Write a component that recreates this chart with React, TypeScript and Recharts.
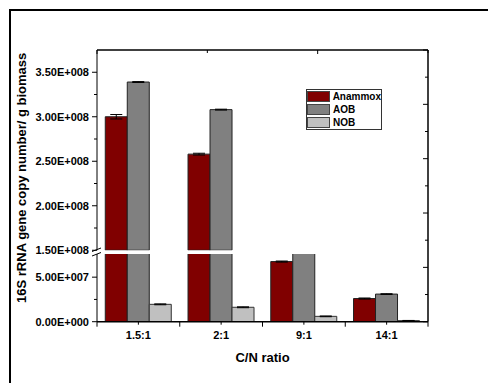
import React from 'react';
import { BarChart, Bar, XAxis, YAxis, ErrorBar, Legend } from 'recharts';

const categories = ['1.5:1', '2:1', '9:1', '14:1'];
const anammox = [3.0e8, 2.58e8, 6.75e7, 2.6e7];
const aob = [3.39e8, 3.08e8, 1.0e8, 3.1e7];
const nob = [1.95e7, 1.62e7, 6.0e6, 1.2e6];
const anammoxErr = [2.5e6, 1.0e6, 6e5, 6e5];
const aobErr = [5e5, 5e5, 0, 4e5];
const nobErr = [5e5, 5e5, 4e5, 2e5];

const seriesNames = ['Anammox', 'AOB', 'NOB'];

const upperTicks = [1.5e8, 1.75e8, 2e8, 2.25e8, 2.5e8, 2.75e8, 3e8, 3.25e8, 3.5e8];
const lowerTicks = [0, 2.5e7, 5e7];
const topTicks = [0, 1, 2, 3, 4, 5, 6, 7, 8, 9, 10];
const rightTicks = [0, 0.5, 1, 1.5, 2, 2.5, 3, 3.5, 4, 4.5, 5];

const UPPER_DOMAIN = [1.5e8, 3.75e8];
const LOWER_DOMAIN = [0, 7.6e7];

const data = categories.map((name, i) => ({
  name,
  anammox: anammox[i],
  aob: aob[i],
  nob: nob[i],
  anammoxErr: anammoxErr[i],
  aobErr: aobErr[i],
  nobErr: nobErr[i],
}));

// the upper segment only shows bars that reach past the break
const above = (v: number) => (v > UPPER_DOMAIN[0] ? v : null);
const upperData = data.map((d) => ({ ...d, anammox: above(d.anammox), aob: above(d.aob), nob: above(d.nob) }));

// layout (px, page coords)
const W = 488;
const H = 383;
const PL = 97;
const PR = 428;
const PT = 50;
const PB = 321.7;
const UPPER_BOTTOM = 250.25;
const LOWER_TOP = 254;
const LOWER_DIV_TOP = 240;
const UH = 260;
const LH = H - LOWER_DIV_TOP;
const BAND = (PR - PL) / categories.length;

const FONT = '"Liberation Sans", Arial, sans-serif';

const sci = (v: number) => {
  const [m, e] = v.toExponential(2).split('e');
  const sign = e[0] === '-' ? '-' : '+';
  return `${m}E${sign}${e.replace(/[+-]/, '').padStart(3, '0')}`;
};

const isMajor = (v: number) => Math.abs(v / 5e7 - Math.round(v / 5e7)) < 1e-9;

const LeftTick = ({ x, y, payload }: any) => {
  const major = isMajor(payload.value);
  return (
    <g>
      <line x1={x - (major ? 5 : 3)} x2={x} y1={y} y2={y} stroke="#000" strokeWidth={1} />
      {major && (
        <text x={x - 8} y={y} dy={4} textAnchor="end" fontSize={11} fontWeight="bold" fill="#000">
          {sci(payload.value)}
        </text>
      )}
    </g>
  );
};

const TopTick = ({ x, y, index }: any) => (
  <line x1={x} x2={x} y1={y} y2={y + (index % 2 === 0 ? 4 : 3)} stroke="#000" strokeWidth={1} />
);

const RightTick = ({ x, y, payload }: any) => (
  <line x1={x - (Number.isInteger(payload.value) ? 5 : 3)} x2={x} y1={y} y2={y} stroke="#000" strokeWidth={1} />
);

const BottomTick = ({ x, y, payload, index }: any) => (
  <g>
    <line x1={x} x2={x} y1={y} y2={y + 3} stroke="#000" strokeWidth={1} />
    <line x1={x - BAND / 2} x2={x - BAND / 2} y1={y} y2={y + 5} stroke="#000" strokeWidth={1} />
    {index === categories.length - 1 && (
      <line x1={x + BAND / 2} x2={x + BAND / 2} y1={y} y2={y + 5} stroke="#000" strokeWidth={1} />
    )}
    <text x={x} y={y + 17.5} textAnchor="middle" fontSize={11} fontWeight="bold" fill="#000">
      {payload.value}
    </text>
  </g>
);

const LegendBox = ({ payload }: any) => {
  const items = [...(payload || [])].sort(
    (a: any, b: any) => seriesNames.indexOf(a.value) - seriesNames.indexOf(b.value)
  );
  return (
    <div style={{ border: '1px solid #333', background: '#fff', width: 74, fontFamily: FONT }}>
      {items.map((p: any) => (
        <div key={p.value} style={{ display: 'flex', alignItems: 'center', height: 13 }}>
          <span
            style={{
              display: 'inline-block',
              width: 23,
              height: 11,
              background: p.color,
              border: '1px solid #444',
              boxSizing: 'border-box',
              marginRight: 3,
            }}
          />
          <span style={{ fontSize: 10, fontWeight: 'bold', color: '#000', lineHeight: '13px' }}>{p.value}</span>
        </div>
      ))}
    </div>
  );
};

const YLabel = () => (
  <text
    x={22}
    y={(PT + PB) / 2 - 8}
    transform={`rotate(-90 22 ${(PT + PB) / 2 - 8})`}
    textAnchor="middle"
    dominantBaseline="central"
    fontSize={13}
    fontWeight="bold"
    fill="#000"
  >
    16S rRNA gene copy number/ g biomass
  </text>
);

const bars = () => [
  <Bar key="a" dataKey="anammox" name={seriesNames[0]} fill="#800000" stroke="#222" strokeWidth={1} isAnimationActive={false}>
    <ErrorBar dataKey="anammoxErr" width={6} stroke="#000" strokeWidth={1} />
  </Bar>,
  <Bar key="b" dataKey="aob" name={seriesNames[1]} fill="#808080" stroke="#222" strokeWidth={1} isAnimationActive={false}>
    <ErrorBar dataKey="aobErr" width={6} stroke="#000" strokeWidth={1} />
  </Bar>,
  <Bar key="c" dataKey="nob" name={seriesNames[2]} fill="#c0c0c0" stroke="#333" strokeWidth={1} isAnimationActive={false}>
    <ErrorBar dataKey="nobErr" width={6} stroke="#000" strokeWidth={1} />
  </Bar>,
];

export default function App() {
  return (
    <div style={{ position: 'fixed', left: 0, top: 0, width: W, height: H, background: '#fff', fontFamily: FONT, overflow: 'hidden' }}>
      {/* upper segment */}
      <div style={{ position: 'absolute', left: 0, top: 0 }}>
        <BarChart
          width={W}
          height={UH}
          data={upperData}
          margin={{ top: PT, right: W - PR, bottom: UH - UPPER_BOTTOM, left: 0 }}
          barCategoryGap="10%"
          barGap={0}
        >
          <XAxis dataKey="name" hide />
          <YAxis
            type="number"
            domain={UPPER_DOMAIN}
            allowDataOverflow
            ticks={upperTicks}
            interval={0}
            width={PL}
            tickSize={0}
            tickMargin={0}
            tickLine={false}
            tick={<LeftTick />}
            axisLine={{ stroke: '#000', strokeWidth: 1 }}
          />
          {bars()}
          <Legend
            content={<LegendBox />}
            layout="horizontal"
            verticalAlign="middle"
            align="center"
            wrapperStyle={{ left: 306, top: 89, width: 'auto' }}
          />
        </BarChart>
      </div>

      {/* lower segment */}
      <div style={{ position: 'absolute', left: 0, top: LOWER_DIV_TOP }}>
        <BarChart
          width={W}
          height={LH}
          data={data}
          margin={{ top: LOWER_TOP - LOWER_DIV_TOP, right: W - PR, bottom: H - PB, left: 0 }}
          barCategoryGap="10%"
          barGap={0}
        >
          <XAxis dataKey="name" hide />
          <YAxis
            type="number"
            domain={LOWER_DOMAIN}
            allowDataOverflow
            ticks={lowerTicks}
            interval={0}
            width={PL}
            tickSize={0}
            tickMargin={0}
            tickLine={false}
            tick={<LeftTick />}
            axisLine={{ stroke: '#000', strokeWidth: 1 }}
          />
          {bars()}
        </BarChart>
      </div>

      {/* frame: top, right and bottom axes */}
      <div style={{ position: 'absolute', left: 0, top: 0, pointerEvents: 'none' }}>
        <BarChart
          width={W}
          height={H}
          data={data}
          margin={{ top: PT - 1, right: W - PR - 1, bottom: H - PB - 45, left: PL }}
        >
          <XAxis
            xAxisId="top"
            orientation="top"
            type="number"
            domain={[0, 10]}
            allowDataOverflow
            ticks={topTicks}
            interval={0}
            height={1}
            tickSize={0}
            tickMargin={0}
            tickLine={false}
            tick={<TopTick />}
            axisLine={{ stroke: '#000', strokeWidth: 1.5 }}
          />
          <XAxis
            dataKey="name"
            height={45}
            interval={0}
            tickSize={0}
            tickMargin={0}
            tickLine={false}
            tick={<BottomTick />}
            axisLine={{ stroke: '#000', strokeWidth: 1.5 }}
            label={{ value: 'C/N ratio', position: 'insideBottom', offset: 5, fontSize: 13, fontWeight: 'bold', fill: '#000' }}
          />
          <YAxis
            orientation="right"
            type="number"
            domain={[0, 5]}
            allowDataOverflow
            ticks={rightTicks}
            interval={0}
            width={1}
            tickSize={0}
            tickMargin={0}
            tickLine={false}
            tick={<RightTick />}
            axisLine={{ stroke: '#000', strokeWidth: 1.5 }}
          />
        </BarChart>
      </div>

      {/* outer frame, axis label and break marks */}
      <svg width={W} height={H} style={{ position: 'absolute', left: 0, top: 0, pointerEvents: 'none' }}>
        <line x1={10} y1={9} x2={10} y2={H} stroke="#000" strokeWidth={2} />
        <line x1={9} y1={10} x2={W} y2={10} stroke="#000" strokeWidth={2} />
        <YLabel />
        <line x1={92} y1={251.5} x2={101} y2={248} stroke="#000" strokeWidth={1} />
        <line x1={92} y1={256} x2={101} y2={252.5} stroke="#000" strokeWidth={1} />
      </svg>
    </div>
  );
}
